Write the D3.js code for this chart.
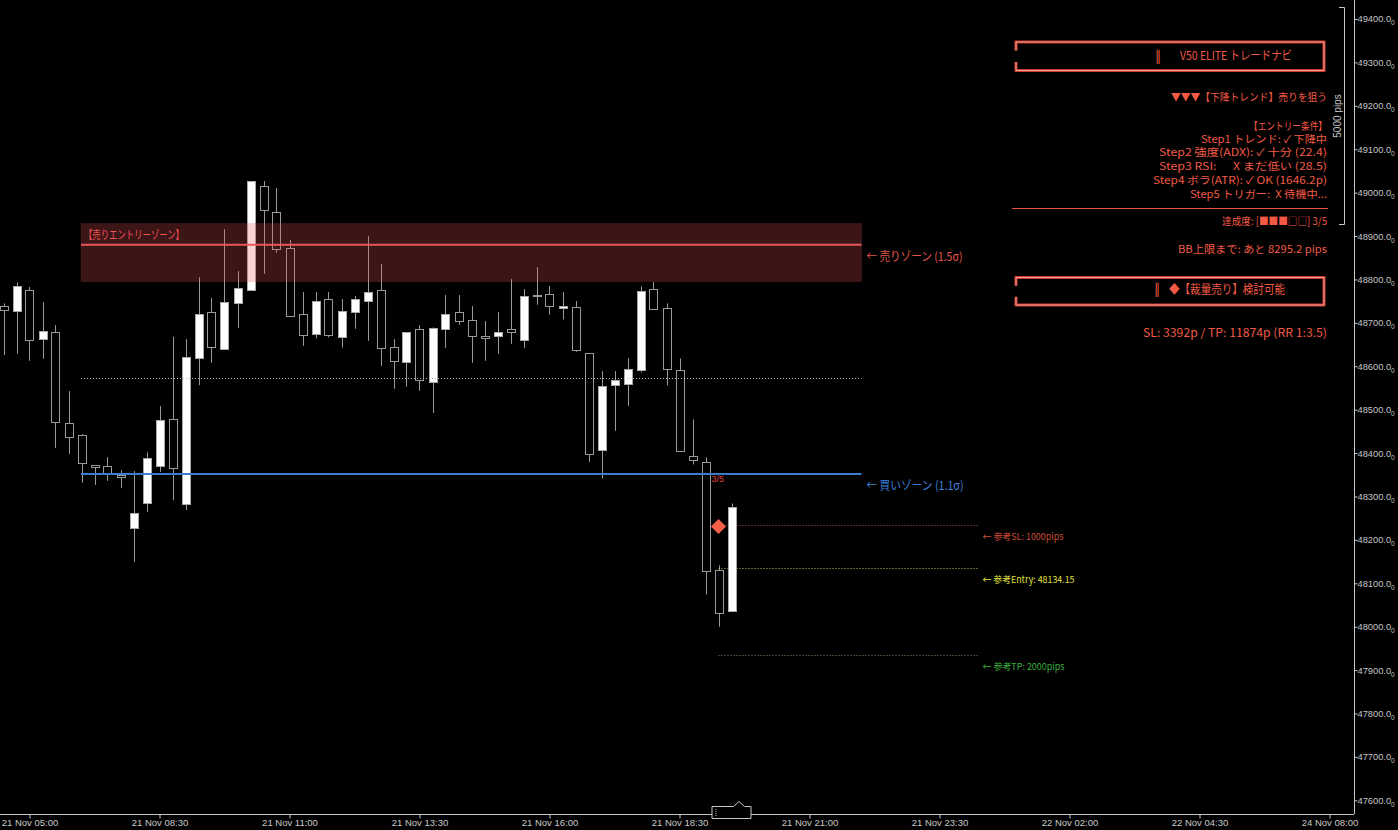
<!DOCTYPE html>
<html><head><meta charset="utf-8">
<script src="https://cdn.jsdelivr.net/npm/d3@7/dist/d3.min.js"></script>
<style>
html,body{margin:0;padding:0;background:#000;}
svg{display:block;}
</style></head>
<body>
<svg id="c" width="1398" height="830"></svg>
<script>
// ---------- DATA ----------
const opens  = [48738.6,48726.3,48774.7,48661.8,48678.0,48468.2,48440.6,48371.4,48369.1,48349.1,
                48226.2,48283.8,48369.1,48478.1,48281.5,48618.0,48724.0,48638.8,48744.8,48774.7,
                49015.1,48954.5,48871.5,48719.4,48673.3,48754.0,48668.3,48724.0,48749.4,48774.7,
                48643.4,48610.2,48684.9,48564.1,48684.9,48724.0,48705.6,48668.7,48668.7,48684.9,
                48659.5,48763.2,48765.5,48733.3,48735.6,48629.6,48406.0,48555.8,48558.1,48590.4,
                48777.1,48733.3,48590.4,48392.2,48378.4,48131.7,48037.2];
const highs  = [48744.8,48793.2,48782.4,48747.8,48694.8,48542.7,48443.6,48371.4,48390.6,48360.6,
                48358.3,48401.4,48508.1,48667.8,48662.5,48805.4,48757.7,48916.0,48819.2,49025.9,
                49026.6,49010.5,48890.7,48770.8,48770.8,48770.8,48754.7,48761.6,48899.9,48835.4,
                48662.5,48678.0,48694.8,48689.5,48763.9,48763.9,48738.6,48704.0,48724.7,48800.8,
                48777.8,48828.4,48784.7,48770.8,48750.1,48629.6,48588.8,48588.8,48618.7,48783.9,
                48793.9,48744.8,48618.0,48477.4,48389.9,48140.9,48283.8];
const lows   = [48625.6,48628.6,48612.5,48617.1,48412.0,48398.2,48331.3,48326.7,48336.0,48319.8,
                48149.2,48264.5,48356.7,48291.5,48268.4,48556.5,48607.9,48638.8,48688.5,48774.7,
                48813.0,48861.4,48714.8,48647.1,48664.1,48666.4,48642.9,48686.3,48658.6,48601.0,
                48548.0,48552.6,48543.4,48492.6,48642.4,48695.5,48607.9,48612.5,48628.6,48651.7,
                48642.4,48741.6,48718.5,48707.9,48633.3,48379.7,48341.5,48451.2,48508.8,48585.8,
                48731.0,48555.8,48403.7,48373.8,48074.1,48000.0,48037.2];
const closes = [48728.7,48784.0,48659.5,48681.6,48472.0,48437.4,48376.1,48366.9,48353.0,48344.5,
                48260.8,48387.5,48475.8,48364.5,48620.3,48719.4,48643.4,48747.1,48779.3,49025.9,
                48959.1,48869.2,48714.8,48671.0,48749.4,48671.0,48726.6,48754.0,48770.1,48641.1,
                48612.5,48678.0,48567.3,48687.2,48719.4,48703.3,48670.1,48664.1,48678.0,48678.0,
                48760.9,48762.5,48737.9,48737.9,48636.5,48396.8,48553.5,48567.3,48592.7,48772.4,
                48731.0,48592.7,48403.7,48383.0,48127.2,48032.6,48274.6];

const priceTicks = [49400,49300,49200,49100,49000,48900,48800,48700,48600,48500,48400,48300,48200,48100,48000,47900,47800,47700,47600];
const timeTickIdx = [2,12,22,32,42,52,62,72,82,92,102];
const timeLabels = ["21 Nov 05:00","21 Nov 08:30","21 Nov 11:00","21 Nov 13:30","21 Nov 16:00","21 Nov 18:30",
                    "21 Nov 21:00","21 Nov 23:30","22 Nov 02:00","22 Nov 04:30","24 Nov 08:00"];

// zones / levels
const sellZone = {top:48929, bottom:48795, line:48880, from:6, to:66};
const midDotted = 48574;
const buyLine = 48352;
const zoneLabels = ["【売りエントリーゾーン】","← 売りゾーン (1.5σ)","← 買いゾーン (1.1σ)"];
const entryPrice = 48134.15, slPips = 1000, tpPips = 2000, pip = 0.1;
const refFrom = 55, refTo = 75;
const refLabels = ["← 参考SL: 1000pips","← 参考Entry: 48134.15","← 参考TP: 2000pips"];
const signal = {idx:55, price:48231, text:"3/5", textPrice:48342};
const ruler = {top:49428, pips:5000, text:"5000 pips"};

// panel
const panelTitle = ["║","V50 ELITE トレードナビ"];
const panelLines = ["▼▼▼【下降トレンド】売りを狙う","【エントリー条件】","Step1 トレンド: ✓ 下降中",
  "Step2 強度(ADX): ✓ 十分 (22.4)","Step3 RSI:      X まだ低い (28.5)","Step4 ボラ(ATR): ✓ OK (1646.2p)",
  "Step5 トリガー:  X 待機中...","達成度: [■■■□□] 3/5","BB上限まで: あと 8295.2 pips"];
const panelAction = ["║","◆【裁量売り】検討可能"];
const panelRR = "SL: 3392p / TP: 11874p (RR 1:3.5)";

// ---------- LAYOUT ----------
const svg = d3.select("#c");
const W = 1398, H = 830;
const x = d3.scaleLinear().domain([0,102]).range([3.5, 3.5+13*102]);
const y = d3.scaleLinear().domain([47600,49400]).range([800.3,19]);
const axisX = 1354, axisY = 814;
const cjk = "'Noto Sans CJK JP','Noto Sans',sans-serif";
const lat = "'Liberation Sans','DejaVu Sans',sans-serif";

svg.append("rect").attr("width",W).attr("height",H).attr("fill","#000");

// ---------- CANDLES ----------
const candles = opens.map((o,i)=>({i,o,h:highs[i],l:lows[i],c:closes[i]}));
const cg = svg.append("g");
const px = d => Math.round(x(d))+0.5;
cg.selectAll("line.wick").data(candles).join("line")
  .attr("x1",d=>px(d.i)).attr("x2",d=>px(d.i))
  .attr("y1",d=>y(d.h)).attr("y2",d=>y(d.l))
  .attr("stroke","#9a9a9a").attr("stroke-width",1);
cg.selectAll("rect.body").data(candles).join("rect")
  .attr("x",d=>px(d.i)-4).attr("width",8)
  .attr("y",d=>Math.round(y(Math.max(d.o,d.c)))+0.5)
  .attr("height",d=>Math.max(0.01,Math.round(y(Math.min(d.o,d.c)))-Math.round(y(Math.max(d.o,d.c)))))
  .attr("fill",d=>d.c>=d.o?"#ffffff":"#000000")
  .attr("stroke",d=>d.c>=d.o?"#a8a8a8":"#9a9a9a").attr("stroke-width",1);

// ---------- ZONES ----------
const zx0 = x(sellZone.from)-0.5, zx1 = x(sellZone.to);
svg.append("rect").attr("x",zx0).attr("y",y(sellZone.top))
  .attr("width",zx1-zx0).attr("height",y(sellZone.bottom)-y(sellZone.top))
  .attr("fill","rgb(232,80,88)").attr("fill-opacity",0.26)
  .attr("stroke","rgb(232,80,88)").attr("stroke-opacity",0.12);
svg.append("line").attr("x1",zx0).attr("x2",zx1).attr("y1",y(sellZone.line)).attr("y2",y(sellZone.line))
  .attr("stroke","#e8575a").attr("stroke-width",2);
svg.append("text").attr("x",zx0+3).attr("y",y(sellZone.top)+15.5)
  .attr("font-family",cjk).attr("font-size",11.5).attr("fill","#f45454")
  .attr("textLength",100).attr("lengthAdjust","spacingAndGlyphs").text(zoneLabels[0]);

svg.append("line").attr("x1",zx0).attr("x2",zx1).attr("y1",Math.round(y(midDotted))+0.5).attr("y2",Math.round(y(midDotted))+0.5)
  .attr("stroke","#bdbdbd").attr("stroke-width",1).attr("stroke-dasharray","1,2");

svg.append("line").attr("x1",zx0).attr("x2",zx1).attr("y1",y(buyLine)).attr("y2",y(buyLine))
  .attr("stroke","#3b7ccc").attr("stroke-width",2);

svg.append("text").attr("x",zx1+5).attr("y",y(sellZone.line)+16.5)
  .attr("font-family",cjk).attr("font-size",12).attr("fill","#e2574c")
  .attr("textLength",96).attr("lengthAdjust","spacingAndGlyphs").text(zoneLabels[1]);
svg.append("text").attr("x",zx1+5).attr("y",y(buyLine)+16.5)
  .attr("font-family",cjk).attr("font-size",12).attr("fill","#3c80dc")
  .attr("textLength",97).attr("lengthAdjust","spacingAndGlyphs").text(zoneLabels[2]);

// ---------- REFERENCE LEVELS ----------
const refs = [
  {p:entryPrice+slPips*pip, stroke:"#a8584a", fill:"#d04c3a", w:81},
  {p:entryPrice, stroke:"#c0c058", fill:"#e0e040", w:92},
  {p:entryPrice-tpPips*pip, stroke:"#6f8f60", fill:"#3cae3c", w:82}
];
refs.forEach((r,k)=>{
  const yy = Math.round(y(r.p))+0.5;
  svg.append("line").attr("x1",x(refFrom)).attr("x2",x(refTo)).attr("y1",yy).attr("y2",yy)
    .attr("stroke",r.stroke).attr("stroke-width",1).attr("stroke-dasharray","1,2");
  svg.append("text").attr("x",x(refTo)+4).attr("y",yy+14)
    .attr("font-family",cjk).attr("font-size",9.5).attr("fill",r.fill)
    .attr("textLength",r.w).attr("lengthAdjust","spacingAndGlyphs").text(refLabels[k]);
});
// redraw last candle over ref lines
const last = candles[candles.length-1];
svg.append("rect").attr("x",px(last.i)-4).attr("width",8)
  .attr("y",Math.round(y(last.c))+0.5).attr("height",Math.round(y(last.o))-Math.round(y(last.c)))
  .attr("fill","#fff").attr("stroke","#a8a8a8");

// signal diamond
const dx = x(signal.idx), dy = y(signal.price);
svg.append("path").attr("d",`M${dx},${dy-7.5}L${dx+7.5},${dy}L${dx},${dy+7.5}L${dx-7.5},${dy}Z`).attr("fill","#f4604a");
svg.append("text").attr("x",x(signal.idx)-7).attr("y",y(signal.textPrice)+3.5)
  .attr("font-family",lat).attr("font-size",9).attr("fill","#e04038").text(signal.text);

// ---------- AXES ----------
svg.append("line").attr("x1",axisX+0.5).attr("x2",axisX+0.5).attr("y1",0).attr("y2",axisY).attr("stroke","#c8c8c8");
svg.append("line").attr("x1",0).attr("x2",axisX).attr("y1",axisY+0.5).attr("y2",axisY+0.5).attr("stroke","#c8c8c8");

const ya = svg.append("g").attr("transform",`translate(${axisX+0.5},0)`)
  .call(d3.axisRight(y).tickValues(priceTicks).tickSize(3).tickPadding(0).tickFormat(d=>d.toFixed(1)));
ya.select(".domain").remove();
ya.selectAll(".tick line").attr("stroke","#c8c8c8");
ya.selectAll(".tick text").attr("fill","#c4c4c4").attr("font-family",lat).attr("font-size",9.3)
  .each(function(d){
    const t = d3.select(this); t.text(null);
    t.append("tspan").text(d.toFixed(1));
    t.append("tspan").attr("font-size",6.5).attr("dy",3).text("0");
  });

const xa = svg.append("g").attr("transform",`translate(0,${axisY+0.5})`)
  .call(d3.axisBottom(x).tickValues(timeTickIdx).tickSize(4).tickPadding(1).tickFormat((d,i)=>timeLabels[i]));
xa.select(".domain").remove();
xa.selectAll(".tick line").attr("stroke","#c8c8c8");
xa.selectAll(".tick text").attr("fill","#c8c8c8").attr("font-family",lat).attr("font-size",9.5);

// current time marker
const mx = x(last.i)+4;
svg.append("path").attr("d",`M${mx-23.5},818.5V806.5H${mx-2}L${mx+3.5},801.5L${mx+9},806.5H${mx+15.5}V818.5Z`)
  .attr("fill","#000").attr("stroke","#c8c8c8");
svg.append("line").attr("x1",mx-19.5).attr("x2",mx-19.5).attr("y1",809).attr("y2",817)
  .attr("stroke","#c8c8c8").attr("stroke-dasharray","1,1");

// ruler
const rTop = Math.round(y(ruler.top))+0.5, rBot = Math.round(y(ruler.top - ruler.pips*pip))+0.5;
svg.append("path").attr("d",`M1339,${rTop}H1344.5V${rBot}H1339`).attr("fill","none").attr("stroke","#c8c8c8");
svg.append("text").attr("transform",`translate(1341,${(rTop+rBot)/2}) rotate(-90)`)
  .attr("text-anchor","middle").attr("font-family",lat).attr("font-size",10).attr("fill","#c8c8c8").text(ruler.text);

// ---------- PANEL ----------
const red = "#f25a46";
function box(y0,y1){
  const x0=1016, x1=1324, gy0 = y0+(y1-y0)*0.3, gy1 = y0+(y1-y0)*0.7;
  const d = `M${x0},${gy0}V${y0}H${x1}V${y1}H${x0}V${gy1}`;
  svg.append("path").attr("d",d).attr("fill","none").attr("stroke","#c83a30").attr("stroke-width",3);
  svg.append("path").attr("d",d).attr("fill","none").attr("stroke","#f6a090").attr("stroke-width",1);
}
box(42,70.5);
svg.append("text").attr("x",1158).attr("y",60.5).attr("text-anchor","middle").attr("font-family","'DejaVu Sans',sans-serif").attr("font-size",12).attr("fill",red).text(panelTitle[0]);
svg.append("text").attr("x",1180).attr("y",60).attr("font-family",cjk).attr("font-size",12).attr("fill",red)
  .attr("textLength",112).attr("lengthAdjust","spacingAndGlyphs").text(panelTitle[1]);

const lineY = [96.7,126.3,139,152.3,166,180,193.7,221,248.7];
const lineW = [156,78,126,168,168,174,137,105,149];
panelLines.forEach((t,k)=>{
  svg.append("text").attr("x",1327).attr("y",lineY[k]+4).attr("text-anchor","end")
    .attr("font-family",cjk).attr("font-size",10.5).attr("fill",red).style("white-space","pre")
    .attr("textLength",lineW[k]).attr("lengthAdjust","spacingAndGlyphs").text(t);
});
svg.append("line").attr("x1",1012).attr("x2",1328).attr("y1",208.5).attr("y2",208.5).attr("stroke","#e4553f");

box(277.5,305);
svg.append("text").attr("x",1157).attr("y",294).attr("text-anchor","middle").attr("font-family","'DejaVu Sans',sans-serif").attr("font-size",12).attr("fill",red).text(panelAction[0]);
svg.append("text").attr("x",1169).attr("y",293.5).attr("font-family",cjk).attr("font-size",12).attr("fill",red)
  .attr("textLength",116).attr("lengthAdjust","spacingAndGlyphs").text(panelAction[1]);
svg.append("text").attr("x",1327).attr("y",336.5).attr("text-anchor","end").attr("font-family",cjk).attr("font-size",11.5).attr("fill",red)
  .attr("textLength",184).attr("lengthAdjust","spacingAndGlyphs").text(panelRR);
</script>
</body></html>
